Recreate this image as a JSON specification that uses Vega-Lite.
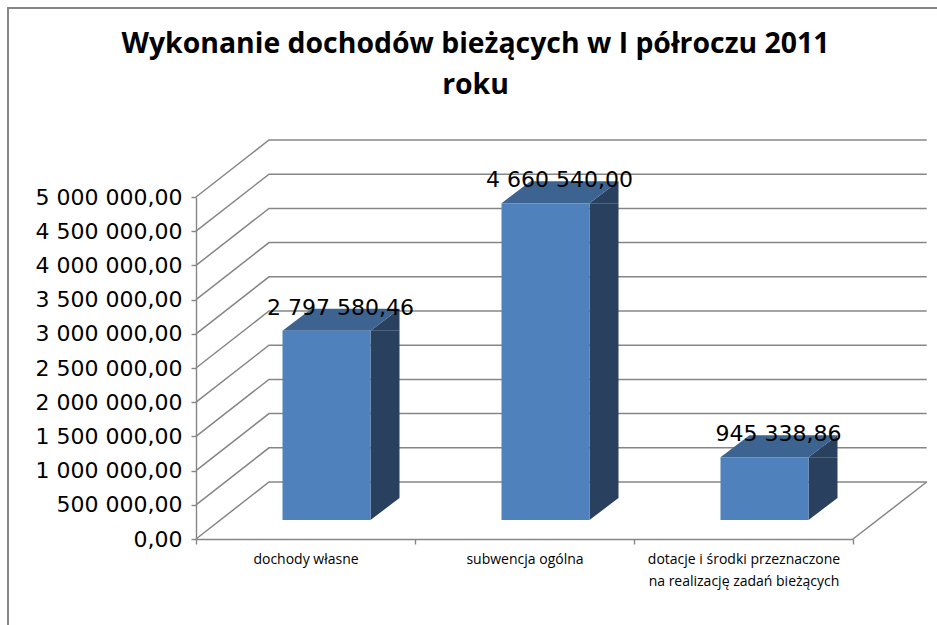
{
"$schema":"https://vega.github.io/schema/vega-lite/v6.json",
"width":657,"height":342,
"autosize":{"type":"none"},
"padding":{"left":196,"top":197,"right":84,"bottom":86},
"background":"white",
"title":{"text":["Wykonanie dochodów bieżących w  I półroczu 2011","roku"],"anchor":"middle","frame":"group","dx":-49,"offset":-96,"lineHeight":41,"font":"Open Sans","fontSize":28.4,"fontWeight":"bold","color":"#000000"},
"config":{"view":{"stroke":null},"locale":{"number":{"decimal":",","thousands":" ","grouping":[3],"currency":["",""]}}},
"datasets":{
"bars":[
{"kategoria":"dochody własne","wartosc":2797580.46},
{"kategoria":"subwencja ogólna","wartosc":4660540.00},
{"kategoria":"dotacje i środki przeznaczone na realizację zadań bieżących","wartosc":945338.86}],
"siatka":[{"v":0},{"v":500000},{"v":1000000},{"v":1500000},{"v":2000000},{"v":2500000},{"v":3000000},{"v":3500000},{"v":4000000},{"v":4500000},{"v":5000000}]
},
"encoding":{
"x":{"field":"kategoria","type":"nominal","title":null,
 "scale":{"domain":["dochody własne","subwencja ogólna","dotacje i środki przeznaczone na realizację zadań bieżących"],"paddingInner":0,"paddingOuter":0},
 "axis":{"labelAngle":0,"tickBand":"extent","domainColor":"#868686","domainWidth":1.5,"tickColor":"#868686","tickWidth":1.4,"tickSize":5,"labelFont":"Open Sans","labelFontSize":14,"labelColor":"#000000","labelPadding":8,"labelLimit":400,"labelLineHeight":22,"labelOverlap":false,"labelBaseline":"top",
 "labelExpr":"indexof(datum.label,' na ')>0 ? [substring(datum.label,0,indexof(datum.label,' na ')), substring(datum.label,indexof(datum.label,' na ')+1)] : datum.label"}},
"y":{"field":"wartosc","type":"quantitative","title":null,
 "scale":{"domain":[0,5000000],"nice":false},
 "axis":{"values":[0,500000,1000000,1500000,2000000,2500000,3000000,3500000,4000000,4500000,5000000],"format":",.2f","grid":false,"domainColor":"#868686","domainWidth":1.4,"tickColor":"#868686","tickWidth":1.4,"tickSize":5,"labelFont":"DejaVu Sans","labelFontSize":22,"labelColor":"#000000","labelPadding":9}}
},
"layer":[
{"data":{"name":"siatka"},
 "mark":{"type":"point","shape":"M0,0L73,-57L730.7,-57","filled":false,"size":4,"stroke":"#868686","strokeWidth":1.5,"opacity":1},
 "encoding":{"x":{"datum":"dochody własne","bandPosition":0},"y":{"field":"v","type":"quantitative"}}},
{"data":{"values":[{"v":0}]},
 "mark":{"type":"point","shape":"M657,0L730.7,-57","filled":false,"size":4,"stroke":"#868686","strokeWidth":1.5,"opacity":1},
 "encoding":{"x":{"datum":"dochody własne","bandPosition":0},"y":{"field":"v","type":"quantitative"}}},
{"data":{"values":[{"v":0}]},
 "mark":{"type":"point","shape":"M-188,90L-188,-531L745,-531","filled":false,"size":4,"stroke":"#868686","strokeWidth":2,"opacity":1},
 "encoding":{"x":{"datum":"dochody własne","bandPosition":0},"y":{"field":"v","type":"quantitative"}}},
{"data":{"name":"bars"},
 "mark":{"type":"bar","size":29,"xOffset":79.5,"yOffset":-17,"y2Offset":-41,"color":"#29405F"},
 "encoding":{"y2":{"datum":0}}},
{"data":{"name":"bars"},
 "mark":{"type":"point","shape":"M65,-17L94,-39L94,-17Z","filled":true,"size":4,"color":"#29405F","opacity":1},
 "encoding":{}},
{"data":{"name":"bars"},
 "mark":{"type":"point","shape":"M65,-41L94,-41L65,-19Z","filled":true,"size":4,"color":"#29405F","opacity":1},
 "encoding":{"y":{"datum":0}}},
{"data":{"name":"bars"},
 "mark":{"type":"point","shape":"M-23,-17L65,-17L94,-39L6,-39Z","filled":true,"size":4,"color":"#3D6390","opacity":1},
 "encoding":{}},
{"data":{"name":"bars"},
 "mark":{"type":"bar","size":88,"xOffset":21,"yOffset":-17,"y2Offset":-19,"color":"#4F81BD"},
 "encoding":{"y2":{"datum":0}}},
{"data":{"name":"bars"},
 "mark":{"type":"text","dx":35,"dy":-40,"baseline":"middle","align":"center","font":"DejaVu Sans","fontSize":22,"color":"#000000"},
 "encoding":{"text":{"field":"wartosc","type":"quantitative","format":",.2f"}}}
]
}
